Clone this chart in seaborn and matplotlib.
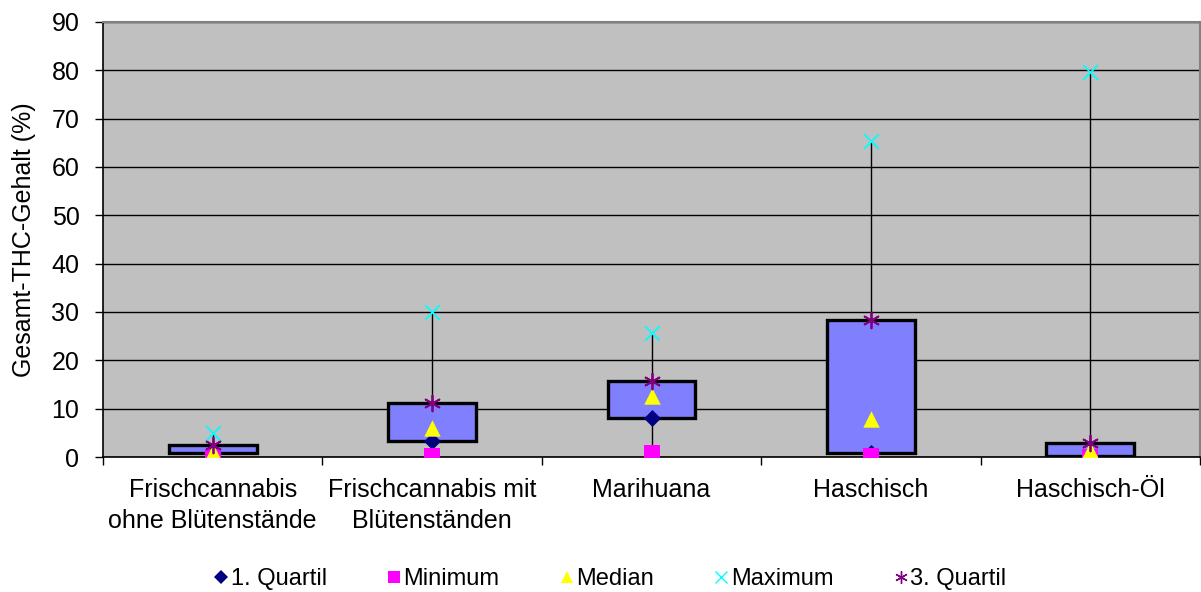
import matplotlib
matplotlib.use("Agg")
import matplotlib.pyplot as plt
import seaborn as sns
import pandas as pd
from matplotlib.lines import Line2D

categories = [
    "Frischcannabis\nohne Blütenstände",
    "Frischcannabis mit\nBlütenständen",
    "Marihuana",
    "Haschisch",
    "Haschisch-Öl",
]
q1 = [0.8, 3.3, 8.1, 0.8, 0.2]
minimum = [0.1, 0.3, 0.9, 0.3, 0.0]
median = [1.0, 6.0, 12.6, 7.9, 1.5]
maximum = [5.0, 30.0, 25.6, 65.3, 79.6]
q3 = [2.4, 11.1, 15.8, 28.4, 3.0]

stat_names = ["1. Quartil", "Minimum", "Median", "Maximum", "3. Quartil"]
stat_values = [q1, minimum, median, maximum, q3]
stat_colors = ["#000080", "#FF00FF", "#FFFF00", "#00FFFF", "#800080"]
star = (6, 2, 0)
stat_markers = ["D", "s", "^", "x", star]
stat_sizes = [75, 130, 140, 110, 130]

rows = []
for name, vals in zip(stat_names, stat_values):
    for cat, v in zip(categories, vals):
        rows.append({"Kategorie": cat, "Kennwert": name, "Wert": v})
df = pd.DataFrame(rows)

sns.set_theme(style="white")
plt.rcParams["font.family"] = ["Liberation Sans", "DejaVu Sans"]
plt.rcParams.update({"text.color": "#000000", "axes.labelcolor": "#000000",
                     "xtick.color": "#000000", "ytick.color": "#000000"})

fig = plt.figure(figsize=(12.01, 5.92), dpi=100)
ax = fig.add_axes([0.0858, 0.228, 0.9134, 0.735])
ax.set_facecolor("#C0C0C0")

x = list(range(len(categories)))
# whiskers from minimum to maximum
ax.vlines(x, minimum, maximum, color="#000000", lw=1.0, zorder=2)
# boxes spanning the quartiles
ax.bar(x, [b - a for a, b in zip(q1, q3)], bottom=q1, width=0.4,
       color="#8080FF", edgecolor="#000000", linewidth=2.4, zorder=3)

for name, col, mk, sz in zip(stat_names, stat_colors, stat_markers, stat_sizes):
    sub = df[df["Kennwert"] == name]
    lw = 1.3 if mk in ("x", star) else 0
    sns.scatterplot(data=sub, x="Kategorie", y="Wert", ax=ax, color=col,
                    marker=mk, s=sz, linewidth=lw, edgecolor=col,
                    zorder=4, legend=False)

ax.set_xlim(-0.5, len(categories) - 0.5)
ax.set_ylim(0, 90)
ax.set_yticks(range(0, 91, 10))
ax.yaxis.grid(True, color="#000000", lw=1.0)
ax.set_axisbelow(True)
ax.set_xticks(x)
ax.set_xticklabels(categories, fontsize=18, linespacing=1.35)
ax.tick_params(axis="x", length=0, pad=15)
ax.tick_params(axis="y", labelsize=18, length=6, width=1,
               direction="out", left=True, pad=11)
ax.set_xticks([i + 0.5 for i in range(-1, len(categories))], minor=True)
ax.tick_params(axis="x", which="minor", length=6, width=1,
               direction="out", bottom=True)
ax.set_xlabel("")
ax.set_ylabel("Gesamt-THC-Gehalt (%)", fontsize=18, labelpad=11)

for side in ("left", "bottom"):
    ax.spines[side].set_color("#000000")
    ax.spines[side].set_linewidth(1.2)
for side in ("top", "right"):
    ax.spines[side].set_color("#808080")
    ax.spines[side].set_linewidth(1.5)
    ax.spines[side].set_visible(True)

handles = [Line2D([], [], linestyle="none", marker=mk, color=col,
                  markersize=9 if mk != "D" else 7,
                  markeredgewidth=1.0 if mk in ("x", star) else 0)
           for col, mk in zip(stat_colors, stat_markers)]
fig.legend(handles, stat_names, loc="center", bbox_to_anchor=(0.508, 0.022), ncol=5,
           frameon=False, fontsize=17, handlelength=0.6, handletextpad=0.1,
           columnspacing=2.55)

fig.savefig("out.png", dpi=100, facecolor="white")
